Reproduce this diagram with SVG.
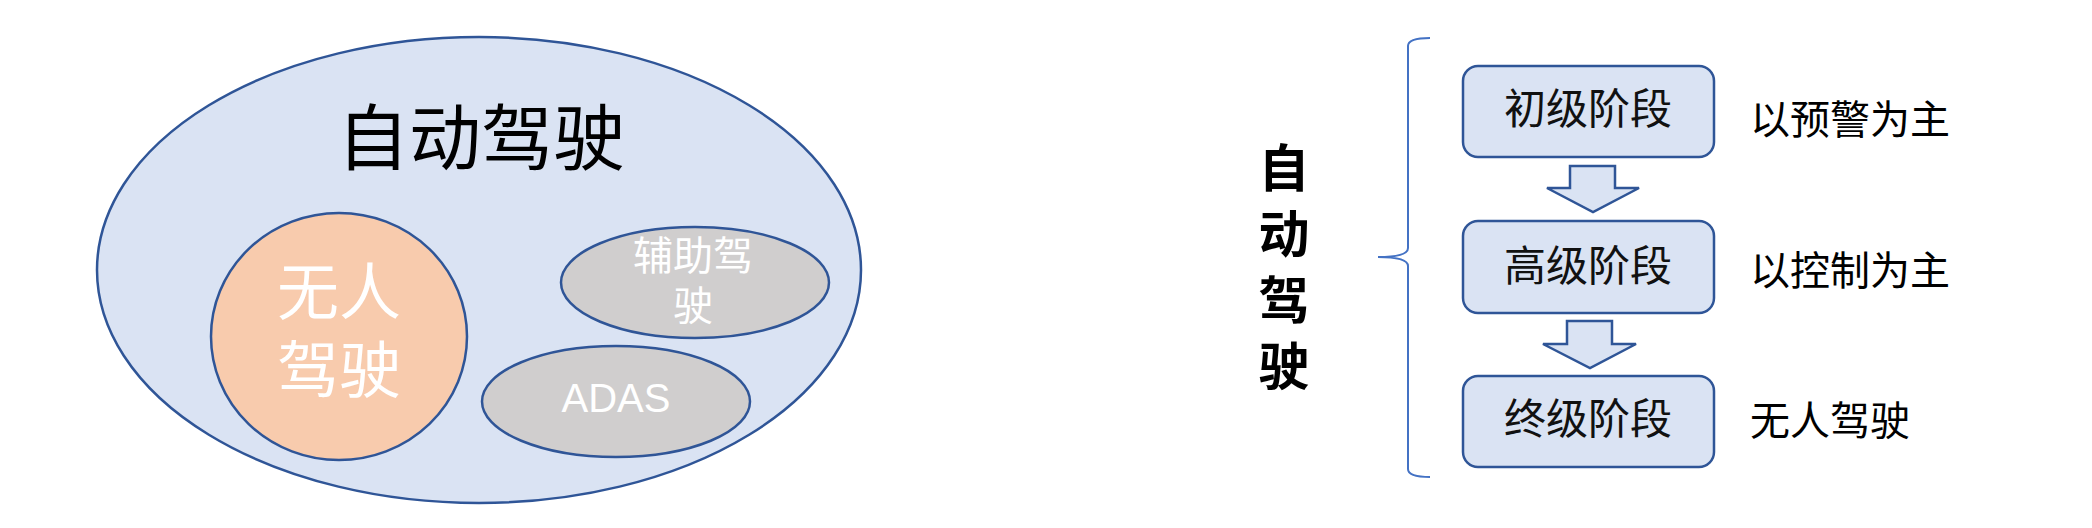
<svg xmlns="http://www.w3.org/2000/svg" width="2092" height="528" viewBox="0 0 2092 528">
<style>
.cjk{font-family:"Noto Sans CJK SC","Noto Sans",sans-serif}
.ol{stroke:#2F5597;stroke-width:2.5}
.white{fill:#FFFFFF}
.box{fill:#DAE3F3;stroke:#2F5597;stroke-width:2.5}
.arrow{fill:#DAE3F3;stroke:#2F5597;stroke-width:2.5;stroke-linejoin:miter}
.bt{font-size:42px;fill:#111111;text-anchor:middle}
.rt{font-size:40px;fill:#000000}
</style>
<rect width="2092" height="528" fill="#FFFFFF"/>
<g id="auto-driving">
<ellipse cx="479" cy="270" rx="382" ry="233" fill="#DAE3F3" class="ol"/>
<text x="481" y="164" class="cjk" font-size="72" text-anchor="middle" fill="#000000">自动驾驶</text>
</g>
<g id="unmanned">
<ellipse cx="339" cy="336.5" rx="128" ry="123.5" fill="#F8CBAD" class="ol"/>
<text x="339" y="315" class="cjk white" font-size="62" text-anchor="middle">无人</text>
<text x="339" y="393" class="cjk white" font-size="62" text-anchor="middle">驾驶</text>
</g>
<g id="assisted">
<ellipse cx="695" cy="282.5" rx="134" ry="55.5" fill="#D0CECE" class="ol"/>
<text x="693" y="270" class="cjk white" font-size="40" text-anchor="middle">辅助驾</text>
<text x="693" y="320" class="cjk white" font-size="40" text-anchor="middle">驶</text>
</g>
<g id="adas">
<ellipse cx="616" cy="401.5" rx="134" ry="55.5" fill="#D0CECE" class="ol"/>
<text x="616" y="412" font-family="Liberation Sans, Arial, sans-serif" font-size="40" text-anchor="middle" fill="#FFFFFF">ADAS</text>
</g>
<g id="vertical-title">
<text x="1284" y="187" class="cjk" font-size="51" font-weight="bold" text-anchor="middle" fill="#000000">自</text>
<text x="1284" y="253" class="cjk" font-size="51" font-weight="bold" text-anchor="middle" fill="#000000">动</text>
<text x="1284" y="319" class="cjk" font-size="51" font-weight="bold" text-anchor="middle" fill="#000000">驾</text>
<text x="1284" y="385" class="cjk" font-size="51" font-weight="bold" text-anchor="middle" fill="#000000">驶</text>
</g>
<g id="brace">
<path d="M1430,38 Q1408,38 1408,46 L1408,248 Q1408,257 1378,257 Q1408,257 1408,266 L1408,469 Q1408,477 1430,477" fill="none" stroke="#4472C4" stroke-width="2"/>
</g>
<g id="stage1">
<rect x="1463" y="66" width="251" height="91" rx="15" class="box"/>
<text x="1588" y="124" class="cjk bt">初级阶段</text>
</g>
<g id="stage2">
<rect x="1463" y="221" width="251" height="92" rx="15" class="box"/>
<text x="1588" y="281" class="cjk bt">高级阶段</text>
</g>
<g id="stage3">
<rect x="1463" y="376" width="251" height="91" rx="15" class="box"/>
<text x="1588" y="434" class="cjk bt">终级阶段</text>
</g>
<g id="connectors">
<polygon points="1570,166 1615,166 1615,188 1639,188 1593,212 1547,188 1570,188" class="arrow"/>
<polygon points="1567,321 1612,321 1612,344 1636,344 1590,368 1543,344 1567,344" class="arrow"/>
</g>
<g id="labels">
<text x="1750" y="134" class="cjk rt">以预警为主</text>
<text x="1750" y="285" class="cjk rt">以控制为主</text>
<text x="1750" y="435" class="cjk rt">无人驾驶</text>
</g>
</svg>
